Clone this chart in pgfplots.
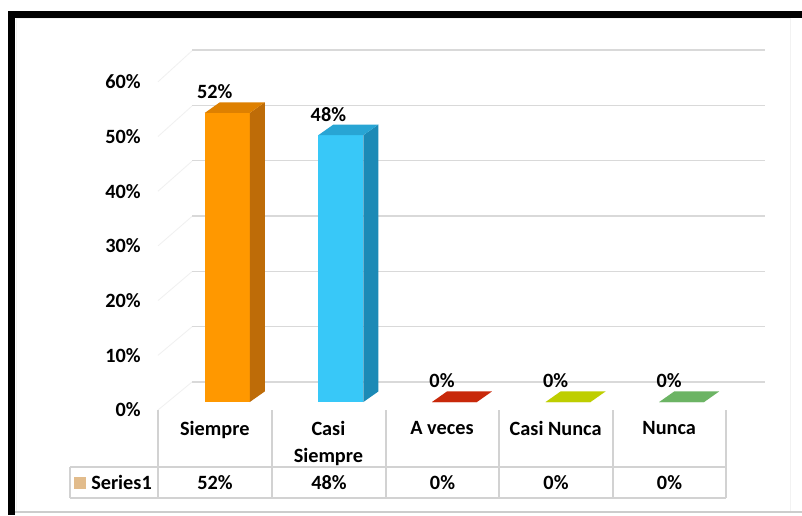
\documentclass[border=0pt]{standalone}
\usepackage{fontspec}
\setmainfont{Carlito}
\usepackage{pgfplots}
\pgfplotsset{compat=1.18}
\definecolor{orF}{RGB}{255,152,0}
\definecolor{orS}{RGB}{190,108,8}
\definecolor{orT}{RGB}{222,128,0}
\definecolor{cyF}{RGB}{56,200,248}
\definecolor{cyS}{RGB}{28,138,182}
\definecolor{cyT}{RGB}{40,165,212}
\definecolor{rdT}{RGB}{200,40,10}
\definecolor{ygT}{RGB}{190,206,0}
\definecolor{gnT}{RGB}{108,180,100}
\definecolor{gridc}{RGB}{217,217,217}
\definecolor{tabc}{RGB}{210,210,210}
\definecolor{keyc}{RGB}{226,188,140}
\newcommand{\lblfont}{\fontsize{15.2}{20}\selectfont\bfseries}
\pgfplotsset{
  mybar/.style={ybar, bar width=33.75pt, bar shift=9.375pt, draw=none,
    nodes near coords={\pgfmathprintnumber[assume math mode=true]{\pgfplotspointmeta}\%},
    every node near coord/.append style={anchor=center, yshift=15.75pt, font=\lblfont, text=black}},
  face/.style={draw=none, mark=none},
}
\begin{document}
\begin{tikzpicture}[font=\lblfont]
\useasboundingbox (0,0) rectangle (601.5pt,386.25pt);
\fill[white] (0,0) rectangle (601.5pt,386.25pt);
\begin{scope}[x=0.75pt,y=-0.75pt,yshift=386.25pt]
 \draw[gray!10, line width=0.75pt] (16,19) rectangle (790,512);
 \draw[gray!40, line width=1pt] (15,512) -- (802,512);
 \foreach \k in {0,...,6} \draw[gray!12, line width=0.6pt] (158,{410-54.7*\k}) -- (192,{382-55.2*\k});
\end{scope}
% back wall gridlines
\begin{axis}[at={(144pt,99.75pt)}, anchor=south west, scale only axis,
  width=429.75pt, height=249pt, xmin=0, xmax=1, ymin=0, ymax=60,
  ytick={0,10,...,60}, xtick=\empty, yticklabels={}, ymajorgrids,
  grid style={gridc, line width=1.2pt}, axis line style={draw=none}, major tick length=0]
\end{axis}
% front plane y labels
\begin{axis}[at={(118.5pt,78.75pt)}, anchor=south west, scale only axis,
  width=10pt, height=246pt, xmin=0, xmax=1, ymin=0, ymax=60,
  ytick={0,10,...,60}, yticklabels={0\%,10\%,20\%,30\%,40\%,50\%,60\%},
  xtick=\empty, axis line style={draw=none}, major tick length=0,
  yticklabel style={anchor=east, inner sep=0pt, xshift=-12.75pt, font=\lblfont}]
\end{axis}
% bars
\begin{axis}[at={(118.5pt,84.75pt)}, anchor=south west, scale only axis,
  width=426pt, height=250.2pt, xmin=-0.5, xmax=4.5, ymin=0, ymax=60,
  clip=false, axis line style={draw=none}, major tick length=0, ytick=\empty,
  xtick={0,...,4}, xticklabels={Siempre,{Casi\\Siempre},A veces,Casi Nunca,Nunca},
  xticklabel style={align=center, anchor=north, yshift=-10.9pt, font=\lblfont}]
\addplot[mybar, fill=orF] coordinates {(0,52)};
\addplot[mybar, fill=cyF] coordinates {(1,48)};
\addplot[mybar, fill=rdT] coordinates {(2,0)};
\addplot[mybar, fill=ygT] coordinates {(3,0)};
\addplot[mybar, fill=gnT] coordinates {(4,0)};
% side and top faces
\addplot[face, fill=orS] coordinates {(0.308,0) (0.440,1.9) (0.440,53.9) (0.308,52)} --cycle;
\addplot[face, fill=orT] coordinates {(-0.088,52) (0.308,52) (0.440,53.9) (0.044,53.9)} --cycle;
\addplot[face, fill=cyS] coordinates {(1.308,0) (1.440,1.9) (1.440,49.9) (1.308,48)} --cycle;
\addplot[face, fill=cyT] coordinates {(0.912,48) (1.308,48) (1.440,49.9) (1.044,49.9)} --cycle;
\addplot[face, fill=rdT] coordinates {(1.912,0) (2.308,0) (2.440,1.9) (2.044,1.9)} --cycle;
\addplot[face, fill=ygT] coordinates {(2.912,0) (3.308,0) (3.440,1.9) (3.044,1.9)} --cycle;
\addplot[face, fill=gnT] coordinates {(3.912,0) (4.308,0) (4.440,1.9) (4.044,1.9)} --cycle;
\end{axis}
\begin{scope}[x=0.75pt,y=-0.75pt,yshift=386.25pt]
 \fill[black] (8,11) rectangle (802,18);
 \fill[black] (8,11) rectangle (15,515);
 \draw[tabc, line width=0.9pt] (70,467) -- (726,467) (70,498) -- (726,498) (70,467) -- (70,498);
 \foreach \x in {158,272,386,499,613,726} \draw[tabc, line width=0.9pt] (\x,410) -- (\x,498);
 \fill[keyc] (74,477) rectangle (86,489);
 \node[anchor=base west, inner sep=0pt] at (91,489.5) {Series1};
 \foreach \x/\t in {215/52,329/48,442.5/0,556/0,669.5/0} \node[anchor=base, inner sep=0pt] at (\x,489.5) {\t\%};
\end{scope}
\end{tikzpicture}
\end{document}
